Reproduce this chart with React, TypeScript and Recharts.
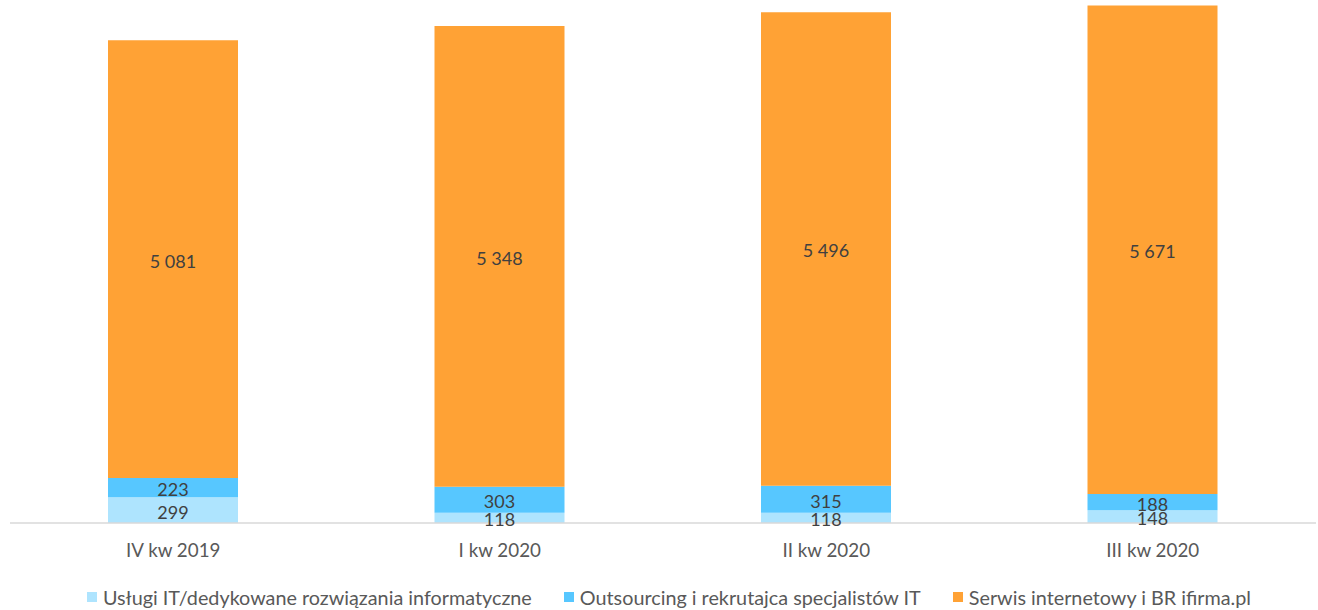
import React from 'react';
import { BarChart, Bar, XAxis, YAxis, LabelList } from 'recharts';

const categories = ['IV kw 2019', 'I kw 2020', 'II kw 2020', 'III kw 2020'];
const uslugi = [299, 118, 118, 148];
const outsourcing = [223, 303, 315, 188];
const serwis = [5081, 5348, 5496, 5671];

const seriesNames = [
  'Usługi IT/dedykowane rozwiązania informatyczne',
  'Outsourcing i rekrutajca specjalistów IT',
  'Serwis internetowy i BR ifirma.pl',
];
const seriesKeys = ['uslugi', 'outsourcing', 'serwis'];
const seriesColors = ['#AEE4FE', '#57C7FF', '#FFA235'];

const data = categories.map((c, i) => ({
  name: c,
  uslugi: uslugi[i],
  outsourcing: outsourcing[i],
  serwis: serwis[i],
}));

const fmt = (v: any) => String(v).replace(/\B(?=(\d{3})+(?!\d))/g, ' ');
const FONT = 'Lato, "Open Sans", sans-serif';

export default function App() {
  return (
    <div style={{ position: 'absolute', left: 0, top: 0, width: 1318, height: 610, background: '#fff', fontFamily: FONT }}>
      <BarChart
        width={1318}
        height={610}
        data={data}
        margin={{ top: 0, right: 2, left: 10, bottom: 57 }}
      >
        <XAxis
          dataKey="name"
          height={30}
          axisLine={{ stroke: '#D9D9D9', strokeWidth: 1.5 }}
          tickLine={false}
          tickMargin={15}
          tick={{ fill: '#595959', fontSize: 18.8, fontFamily: FONT }}
        />
        <YAxis hide domain={[0, 6070]} />
        {seriesKeys.map((k, i) => (
          <Bar key={k} dataKey={k} stackId="a" fill={seriesColors[i]} barSize={130} isAnimationActive={false}>
            <LabelList
              dataKey={k}
              position="center"
              formatter={fmt}
              fill="#404040"
              fontSize={18}
              fontFamily={FONT}
              dy={2}
            />
          </Bar>
        ))}
      </BarChart>
      <div
        style={{
          position: 'absolute',
          top: 585,
          left: 0,
          width: 1318,
          display: 'flex',
          justifyContent: 'center',
          paddingLeft: 20,
          boxSizing: 'border-box',
          fontSize: 19.8,
          color: '#595959',
          lineHeight: '24px',
        }}
      >
        {seriesNames.map((n, i) => (
          <div key={n} style={{ display: 'flex', alignItems: 'center', marginRight: i < 2 ? 32 : 0 }}>
            <span style={{ display: 'inline-block', width: 10, height: 10, background: seriesColors[i], marginRight: 6 }} />
            <span>{n}</span>
          </div>
        ))}
      </div>
    </div>
  );
}
